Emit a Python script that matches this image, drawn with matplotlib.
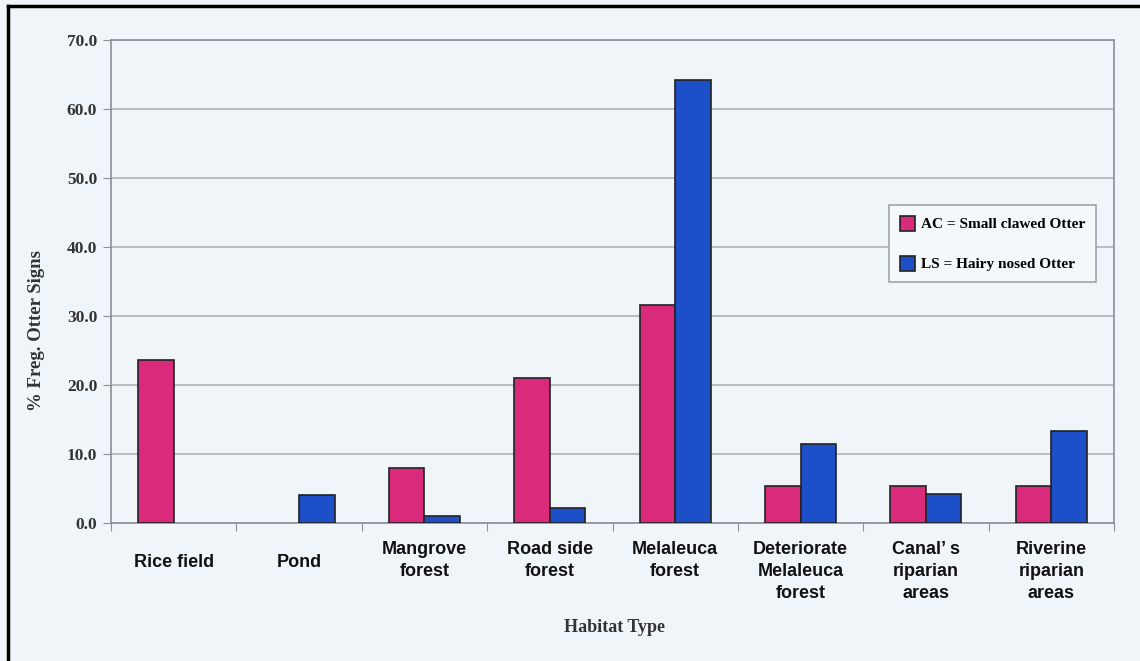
import matplotlib.pyplot as plt
import numpy as np
from matplotlib.lines import Line2D
from matplotlib.transforms import blended_transform_factory

habitats = [
    "Rice field",
    "Pond",
    "Mangrove\nforest",
    "Road side\nforest",
    "Melaleuca\nforest",
    "Deteriorate\nMelaleuca\nforest",
    "Canal\u2019 s\nriparian\nareas",
    "Riverine\nriparian\nareas",
]
ac_values = [23.6, 0.0, 7.9, 21.0, 31.6, 5.3, 5.3, 5.3]
ls_values = [0.0, 4.1, 1.0, 2.1, 64.2, 11.4, 4.2, 13.3]
y_ticks = [0, 10, 20, 30, 40, 50, 60, 70]

BG = "#eff5f9"
PINK = "#d92a7c"
BLUE = "#1d4fc9"
SERIF = ["Liberation Serif", "DejaVu Serif"]
SANS = ["Liberation Sans", "DejaVu Sans"]

fig = plt.figure(figsize=(11.4, 6.61), dpi=100, facecolor=BG)
ax = fig.add_axes([0.0974, 0.2088, 0.8798, 0.7307], facecolor=BG)

x = np.arange(len(habitats))
w = 0.283
# zero values get no outline, as in the original
ax.bar(x - w / 2, ac_values, w, color=PINK, edgecolor="#222222",
       linewidth=[1.2 if v > 0 else 0 for v in ac_values],
       label="AC = Small clawed Otter", zorder=3)
ax.bar(x + w / 2, ls_values, w, color=BLUE, edgecolor="#222222",
       linewidth=[1.2 if v > 0 else 0 for v in ls_values],
       label="LS = Hairy nosed Otter", zorder=3)

ax.set_xlim(-0.5, len(habitats) - 0.5)
ax.set_ylim(0, 70)
ax.set_yticks(y_ticks)
ax.set_yticklabels([f"{v:.1f}" for v in y_ticks], family=SERIF,
                   fontweight="bold", fontsize=12.5, color="#333333")
ax.yaxis.grid(True, color="#a9acb2", linewidth=1.1, zorder=0)
ax.tick_params(axis="y", length=6, color="#8c8f96", pad=4)

# category separators as x ticks
ax.set_xticks(np.arange(len(habitats) + 1) - 0.5)
ax.set_xticklabels([])
ax.tick_params(axis="x", length=6, color="#8c8f96")

for s in ["left", "right", "bottom", "top"]:
    ax.spines[s].set_color("#8c8f96")
    ax.spines[s].set_linewidth(1.2)

trans = blended_transform_factory(ax.transData, fig.transFigure)
for i, lab in enumerate(habitats):
    n = lab.count("\n") + 1
    y = 1 - 541 / 661 if n > 1 else 1 - 554 / 661
    ax.text(i, y, lab, transform=trans, ha="center", va="top",
            family=SANS, fontweight="bold", fontsize=13, linespacing=1.4,
            color="#111111")

fig.text(0.032, 0.5, "% Freg. Otter Signs", rotation=90,
         ha="center", va="center", family=SERIF, fontweight="bold",
         fontsize=13.5, color="#333333")
fig.text(0.539, 1 - 627 / 661, "Habitat Type", ha="center", va="center",
         family=SERIF, fontweight="bold", fontsize=13, color="#333333")

leg = ax.legend(loc="upper left", bbox_to_anchor=(0.7755, 0.658),
                prop={"family": SERIF, "weight": "bold", "size": 11},
                frameon=True, fancybox=False, edgecolor="#a0a3a8",
                facecolor="#f4f8fb", framealpha=1, handlelength=1.0,
                handleheight=1.1, handletextpad=0.4, labelspacing=1.6,
                borderpad=0.7, borderaxespad=0)
leg.get_frame().set_linewidth(1.2)
for h in leg.legend_handles:
    h.set_linewidth(1.2)
    h.set_edgecolor("#222222")

# outer frame (left and top edges)
fig.add_artist(Line2D([0.007, 0.007], [0, 0.991], color="black", linewidth=2.5,
                      transform=fig.transFigure))
fig.add_artist(Line2D([0.007, 1.0], [0.991, 0.991], color="black", linewidth=2.5,
                      transform=fig.transFigure))

fig.savefig("out.png", dpi=100, facecolor=BG)
